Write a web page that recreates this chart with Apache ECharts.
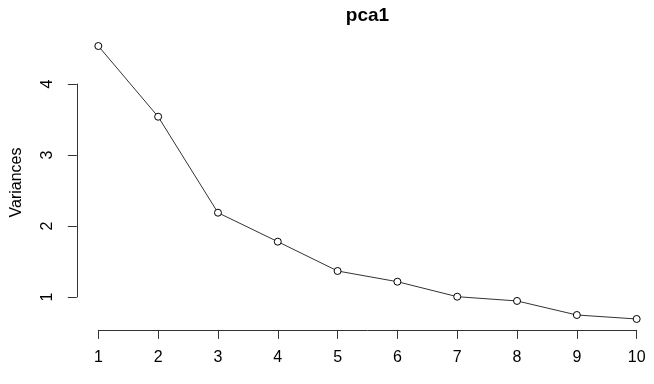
<!DOCTYPE html>
<html>
<head>
<meta charset="utf-8">
<script src="https://cdn.jsdelivr.net/npm/echarts@6/dist/echarts.min.js"></script>
<style>
html,body{margin:0;padding:0;background:#fff;}
#chart{width:654px;height:384px;}
</style>
</head>
<body>
<div id="chart"></div>
<script>
var components = [1, 2, 3, 4, 5, 6, 7, 8, 9, 10];
var variances = [4.535, 3.539, 2.187, 1.779, 1.366, 1.215, 1.004, 0.944, 0.746, 0.690];
var xTicks = [1, 2, 3, 4, 5, 6, 7, 8, 9, 10];
var yTicks = [1, 2, 3, 4];
var chartTitle = 'pca1';
var yTitle = 'Variances';

var font = 'Liberation Sans, Arial, sans-serif';
var seriesData = components.map(function (c, i) { return [c, variances[i]]; });

// R-style plotting region: data range extended by 4%
var xMin = Math.min.apply(null, components), xMax = Math.max.apply(null, components);
var yMin = Math.min.apply(null, variances), yMax = Math.max.apply(null, variances);
var xPad = (xMax - xMin) * 0.04, yPad = (yMax - yMin) * 0.04;

var containerW = 654;
var plotLeft = 76.8, plotTop = 35.1, plotW = 581.4, plotH = 294.8;
var xUnit = plotW / (xMax - xMin + 2 * xPad);
var yUnit = plotH / (yMax - yMin + 2 * yPad);
// the original plot region runs past the right edge of the picture: clip it
var drawW = Math.min(plotW, containerW - plotLeft);
var xAxisMin = xMin - xPad;
var xAxisMax = xAxisMin + drawW / xUnit;
var xTickL = plotLeft + (xTicks[0] - xAxisMin) * xUnit;
var xTickW = (xTicks[xTicks.length - 1] - xTicks[0]) * xUnit;
var yTickTop = plotTop + ((yMax + yPad) - yTicks[yTicks.length - 1]) * yUnit;
var yTickH = (yTicks[yTicks.length - 1] - yTicks[0]) * yUnit;

var chart = echarts.init(document.getElementById('chart'), null, {renderer: 'canvas'});
chart.setOption({
  animation: false,
  backgroundColor: '#ffffff',
  title: {
    text: chartTitle,
    left: plotLeft + plotW / 2,
    textAlign: 'center',
    top: 6,
    padding: 0,
    textStyle: {fontFamily: font, fontSize: 19, fontWeight: 'bold', color: '#000'}
  },
  grid: [
    {left: plotLeft, top: plotTop, width: drawW, height: plotH, containLabel: false, outerBoundsMode: 'none'},
    {left: xTickL, top: plotTop, width: xTickW, height: plotH, containLabel: false, outerBoundsMode: 'none'},
    {left: plotLeft, top: yTickTop, width: drawW, height: yTickH, containLabel: false, outerBoundsMode: 'none'}
  ],
  xAxis: [
    {gridIndex: 0, type: 'value', min: xAxisMin, max: xAxisMax, show: false},
    {gridIndex: 1, type: 'value', min: xTicks[0], max: xTicks[xTicks.length - 1], interval: 1,
      axisLine: {show: true, onZero: false, lineStyle: {color: '#333', width: 1}},
      axisTick: {show: true, length: 9, lineStyle: {color: '#333', width: 1}},
      axisLabel: {margin: 20, fontFamily: font, fontSize: 16, color: '#000'},
      splitLine: {show: false}},
    {gridIndex: 2, type: 'value', show: false}
  ],
  yAxis: [
    {gridIndex: 0, type: 'value', min: yMin - yPad, max: yMax + yPad,
      axisLine: {show: false}, axisTick: {show: false}, axisLabel: {show: false}, splitLine: {show: false},
      name: yTitle, nameLocation: 'middle', nameRotate: 90, nameGap: 52,
      nameTextStyle: {fontFamily: font, fontSize: 16, color: '#000'}},
    {gridIndex: 1, type: 'value', show: false},
    {gridIndex: 2, type: 'value', min: yTicks[0], max: yTicks[yTicks.length - 1], interval: 1,
      axisLine: {show: true, onZero: false, lineStyle: {color: '#333', width: 1}},
      axisTick: {show: true, length: 9, lineStyle: {color: '#333', width: 1}},
      axisLabel: {rotate: 90, margin: 21, fontFamily: font, fontSize: 16, color: '#000'},
      splitLine: {show: false}}
  ],
  series: [{
    type: 'line',
    xAxisIndex: 0,
    yAxisIndex: 0,
    data: seriesData,
    symbol: 'circle',
    symbolSize: 7,
    showSymbol: true,
    clip: false,
    lineStyle: {color: '#333', width: 1},
    itemStyle: {color: '#fff', borderColor: '#000', borderWidth: 1}
  }]
});
</script>
</body>
</html>
